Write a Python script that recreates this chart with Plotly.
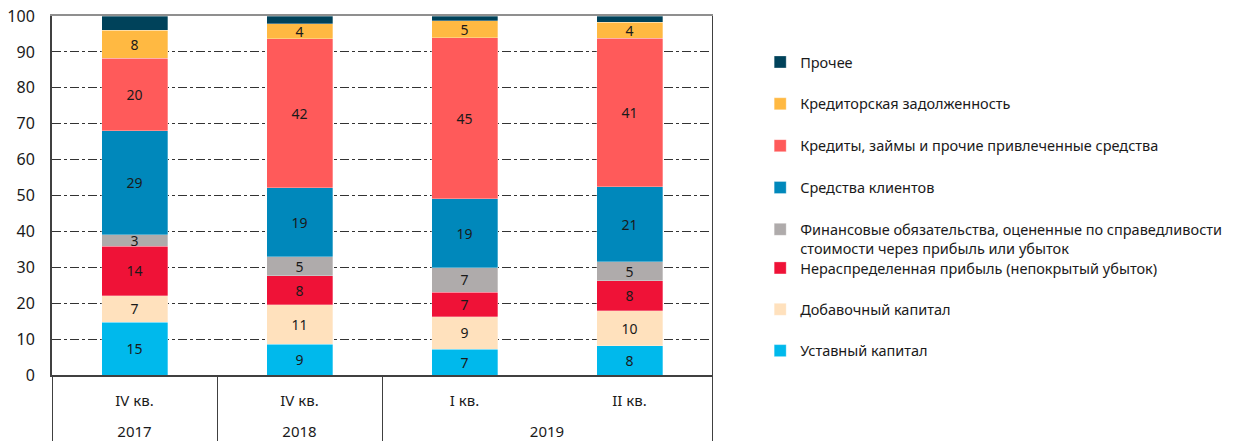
import plotly.graph_objects as go

years = ["2017", "2018", "2019", "2019"]
quarters = ["IV кв.", "IV кв.", "I кв.", "II кв."]

series_names = [
    "Уставный капитал",
    "Добавочный капитал",
    "Нераспределенная прибыль (непокрытый убыток)",
    "Финансовые обязательства, оцененные по справедливости<br>стоимости через прибыль или убыток",
    "Средства клиентов",
    "Кредиты, займы и прочие привлеченные средства",
    "Кредиторская задолженность",
    "Прочее",
]
ustavny = [14.7, 8.6, 7.2, 8.1]
dobavochny = [7.4, 11.0, 9.0, 9.8]
neraspred = [13.8, 8.0, 6.9, 8.3]
fin_obyaz = [3.2, 5.3, 6.8, 5.4]
sredstva_klientov = [29.0, 19.2, 19.2, 20.9]
kredity = [20.2, 41.6, 44.9, 41.3]
kreditorskaya = [7.8, 4.2, 4.7, 4.4]
prochee = [3.9, 2.1, 1.3, 1.8]

series_values = [ustavny, dobavochny, neraspred, fin_obyaz,
                 sredstva_klientov, kredity, kreditorskaya, prochee]
colors = ["#00B9EC", "#FFE1BD", "#EF1237", "#AFABAB",
          "#0088BB", "#FF5A5A", "#FFB942", "#00425A"]
show_labels = [True, True, True, True, True, True, True, False]

n = len(quarters)
cat_keys = [f"{q} {y}" for q, y in zip(quarters, years)]
positions = list(range(n))

# year groups: centres and boundaries derived from the years list
year_groups = []
for i, y in enumerate(years):
    if not year_groups or year_groups[-1][0] != y:
        year_groups.append([y, i, i])
    else:
        year_groups[-1][2] = i
year_labels = [g[0] for g in year_groups]
year_centres = [(g[1] + g[2]) / 2 for g in year_groups]
boundaries = [g[1] - 0.5 for g in year_groups] + [n - 0.5]

FONT = "Noto Sans"
TXT = "#1a1a1a"
AX = "#404040"

fig = go.Figure()
for i, (name, vals, col, lab) in enumerate(zip(series_names, series_values, colors, show_labels)):
    fig.add_trace(go.Bar(
        x=cat_keys,
        y=vals,
        name=name,
        marker=dict(color=col, line=dict(color="rgba(255,255,255,0.5)", width=0.6)),
        text=[f"{round(v)}" for v in vals] if lab else None,
        textposition="inside" if lab else "none",
        insidetextanchor="middle",
        textangle=0,
        textfont=dict(family=FONT, size=14, color=TXT),
        legend="legend" if i >= 3 else "legend2",
        legendgroup=f"g{i}",
        legendrank=len(series_names) - i,
        hoverinfo="skip",
    ))

# empty helper traces so that the overlaid label / divider / border axes are rendered
for xa, ya in [("x2", "y2"), ("x3", "y"), ("x4", "y"), ("x5", "y")]:
    fig.add_trace(go.Scatter(
        x=positions, y=[None] * n, xaxis=xa, yaxis=ya,
        mode="markers", marker=dict(opacity=0),
        showlegend=False, hoverinfo="skip",
    ))

legend_common = dict(
    xanchor="left", yanchor="top",
    traceorder="grouped", valign="top",
    font=dict(family=FONT, size=14.5, color=TXT),
    bgcolor="rgba(0,0,0,0)",
    itemclick=False, itemdoubleclick=False,
)

overlay = dict(overlaying="x", anchor="y", type="linear", range=[-0.5, n - 0.5],
               showgrid=False, zeroline=False, automargin=False)

fig.update_layout(
    width=1239, height=441,
    margin=dict(l=52, r=525, t=16, b=66),
    barmode="stack",
    bargap=0.6,
    plot_bgcolor="white",
    paper_bgcolor="white",
    font=dict(family=FONT, size=15, color=TXT),
    uniformtext=dict(minsize=14, mode="show"),
    legend=dict(x=1.073, y=0.9164, tracegroupgap=20, **legend_common),
    legend2=dict(x=1.073, y=0.3426, tracegroupgap=19.5, **legend_common),
    xaxis=dict(
        type="category", range=[-0.5, n - 0.5],
        showticklabels=False, ticks="",
        showline=True, linecolor=AX, linewidth=2,
        showgrid=False, automargin=False,
    ),
    xaxis2=dict(
        side="bottom", tickmode="array",
        tickvals=positions, ticktext=quarters,
        ticks="", ticklabelstandoff=15, showline=False,
        tickfont=dict(family=FONT, size=15, color=TXT), **overlay,
    ),
    xaxis3=dict(
        side="bottom", tickmode="array",
        tickvals=year_centres, ticktext=year_labels,
        ticks="", ticklabelstandoff=46, showline=False,
        tickfont=dict(family=FONT, size=15, color=TXT), **overlay,
    ),
    xaxis4=dict(
        side="bottom", tickmode="array",
        tickvals=boundaries, showticklabels=False,
        ticks="outside", ticklen=70, tickwidth=1, tickcolor=AX,
        showline=False, **overlay,
    ),
    xaxis5=dict(
        side="top", showticklabels=False, ticks="",
        showline=True, linecolor="#8f8f8f", linewidth=2, **overlay,
    ),
    yaxis=dict(
        range=[0, 100], dtick=10,
        showgrid=True, gridcolor="#333333", griddash="dashdot", gridwidth=1,
        showline=True, linecolor=AX, linewidth=2,
        ticks="", ticklabelstandoff=12, automargin=False,
        tickfont=dict(family=FONT, size=16, color=TXT),
        zeroline=False,
    ),
    yaxis2=dict(
        overlaying="y", anchor="x", side="right",
        range=[0, 100], showticklabels=False, ticks="",
        showgrid=False, zeroline=False,
        showline=True, linecolor=AX, linewidth=1, automargin=False,
    ),
)
fig.write_html("out.html", config={"displayModeBar": False},
               post_script="document.body.style.margin='0px';")
